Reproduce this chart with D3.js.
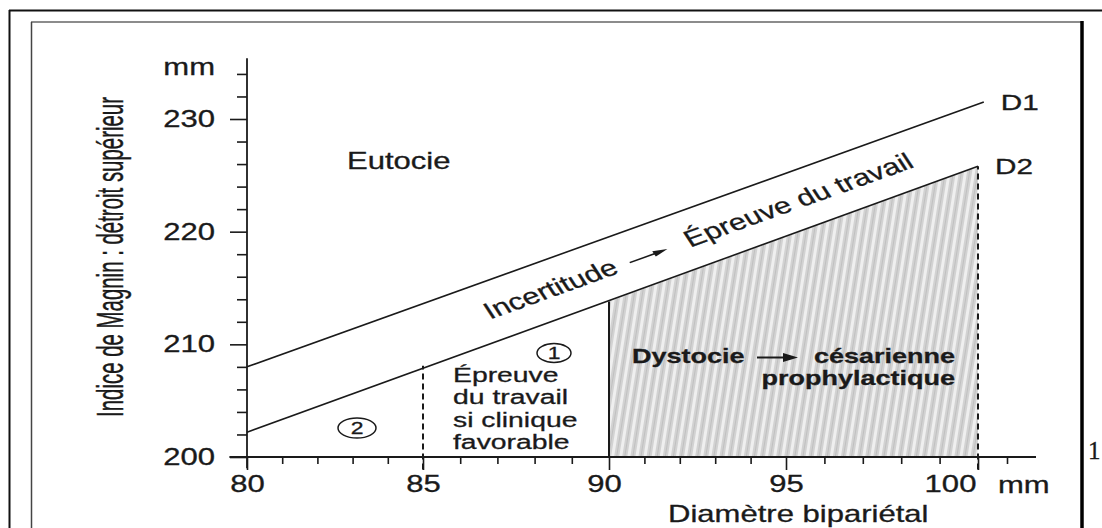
<!DOCTYPE html>
<html>
<head>
<meta charset="utf-8">
<script src="https://cdn.jsdelivr.net/npm/d3@7"></script>
<style>
  body { margin: 0; background: #fff; }
  svg { display: block; }
  text { font-family: "Liberation Sans", Arial, sans-serif; fill: #1a1a1a; stroke: #1a1a1a; stroke-width: 0.3px; }
</style>
</head>
<body>
<svg width="1102" height="528"></svg>
<script>
// values
var xMajor = [80, 85, 90, 95, 100];
var xMinor = [81, 82, 83, 84, 86, 87, 88, 89, 91, 92, 93, 94, 96, 97, 98, 99, 101];
var yMajor = [200, 210, 220, 230];
var yMinor = [202, 204, 206, 208, 212, 214, 216, 218, 222, 224, 226, 228, 232, 234];

var lineNames = ['D1', 'D2'];
var d1 = [[80, 208], [100.2, 231.5]];
var d2 = [[80, 202.2], [100, 225.8]];
var zoneTop = [[90, 213.8], [100, 225.8]];   // cesarean zone, under D2
var solid90 = [[90, 200], [90, 213.8]];
var dashed85 = [[85, 198.9], [85, 208.1]];
var dashed100 = [[100, 198.9], [100, 225.8]];

var SX = 1.35; // the scan is stretched horizontally
var ink = '#1a1a1a';

var svg = d3.select('svg');

// scan is a bit uneven along x, so the scale follows the printed ticks
var x = d3.scaleLinear()
  .domain([80, 85, 90, 95, 100, 101])
  .range([247, 423, 609, 786, 978, 1007]);
var y = d3.scaleLinear().domain([200, 230]).range([457, 119]);

var line = d3.line().x(function (d) { return x(d[0]); }).y(function (d) { return y(d[1]); });

// page frames
svg.append('rect').attr('width', 1102).attr('height', 528).attr('fill', '#fff');
svg.append('line').attr('x1', 9).attr('y1', 10.5).attr('x2', 1102).attr('y2', 10.5)
  .attr('stroke', '#111').attr('stroke-width', 2);
svg.append('line').attr('x1', 9.5).attr('y1', 10).attr('x2', 9.5).attr('y2', 528)
  .attr('stroke', '#111').attr('stroke-width', 2);
svg.append('line').attr('x1', 31).attr('y1', 22).attr('x2', 1082).attr('y2', 22)
  .attr('stroke', '#666').attr('stroke-width', 1.5);
svg.append('line').attr('x1', 31.5).attr('y1', 22).attr('x2', 31.5).attr('y2', 528)
  .attr('stroke', '#444').attr('stroke-width', 1.5);
svg.append('line').attr('x1', 1082).attr('y1', 21).attr('x2', 1082).attr('y2', 528)
  .attr('stroke', '#000').attr('stroke-width', 3.5);
svg.append('text').text('1')
  .attr('x', 1088).attr('y', 459)
  .style('font-family', '"Liberation Serif", "DejaVu Serif", serif')
  .style('font-size', '25px');

// striped texture for the shaded zone
var defs = svg.append('defs');
var pat = defs.append('pattern')
  .attr('id', 'stripes')
  .attr('patternUnits', 'userSpaceOnUse')
  .attr('width', 8).attr('height', 40)
  .attr('patternTransform', 'rotate(9)');
pat.append('rect').attr('width', 8).attr('height', 40).attr('fill', '#d2d2d2');
pat.append('rect').attr('x', 3).attr('width', 3).attr('height', 40).attr('fill', '#efefef');
pat.append('rect').attr('x', 0).attr('width', 1).attr('height', 40).attr('fill', '#c0c0c0');

var zone = d3.area()
  .x(function (d) { return x(d[0]); })
  .y0(y(200))
  .y1(function (d) { return y(d[1]); });
svg.append('path')
  .datum(zoneTop)
  .attr('d', zone)
  .attr('fill', 'url(#stripes)');

// lines D1 and D2
svg.selectAll('.dline')
  .data([d1, d2])
  .enter().append('path')
  .attr('class', 'dline')
  .attr('d', line)
  .attr('fill', 'none')
  .attr('stroke', ink)
  .attr('stroke-width', 1.6);

svg.append('path').datum(solid90).attr('d', line)
  .attr('stroke', ink).attr('stroke-width', 2);
svg.selectAll('.dash')
  .data([dashed85, dashed100])
  .enter().append('path')
  .attr('class', 'dash')
  .attr('d', line)
  .attr('stroke', ink)
  .attr('stroke-width', 2)
  .attr('stroke-dasharray', '6,4');

// axes
var yMinorAxis = d3.axisLeft(y).tickValues(yMinor).tickSize(10).tickFormat('');
var yMajorAxis = d3.axisLeft(y).tickValues(yMajor).tickSize(17).tickPadding(15);
var xMinorAxis = d3.axisBottom(x).tickValues(xMinor).tickSize(7).tickFormat('');
var xMajorAxis = d3.axisBottom(x).tickValues(xMajor).tickSize(13).tickPadding(6);

function styleAxis(g) {
  g.select('.domain').remove();
  g.selectAll('line').attr('stroke', ink).attr('stroke-width', 1.6);
  g.selectAll('text').attr('font-size', 23).attr('fill', ink)
    .style('font-family', '"Liberation Sans", Arial, sans-serif');
}

svg.append('g').attr('transform', 'translate(' + x(80) + ',0)').call(yMinorAxis).call(styleAxis);
svg.append('g').attr('transform', 'translate(' + x(80) + ',0)').call(yMajorAxis).call(styleAxis)
  .selectAll('text')
  .attr('x', -32 / SX)
  .attr('transform', 'scale(' + SX + ',1)');
svg.append('g').attr('transform', 'translate(0,' + y(200) + ')').call(xMinorAxis).call(styleAxis);
svg.append('g').attr('transform', 'translate(0,' + y(200) + ')').call(xMajorAxis).call(styleAxis)
  .selectAll('text')
  .attr('x', function (d) { return d === 100 ? -28 / SX : (d === 90 ? -5 / SX : 0); })
  .attr('transform', 'scale(' + SX + ',1)');

// axis lines
svg.append('line')
  .attr('x1', x(80)).attr('x2', x(80))
  .attr('y1', y(235.4)).attr('y2', y(199))
  .attr('stroke', ink).attr('stroke-width', 1.8);
svg.append('line')
  .attr('x1', x(79.5)).attr('x2', x(102))
  .attr('y1', y(200)).attr('y2', y(200))
  .attr('stroke', ink).attr('stroke-width', 1.8);

// stretched text helper
function label(px, py, str, size, anchor, weight) {
  return svg.append('text')
    .text(str)
    .attr('transform', 'translate(' + px + ',' + py + ') scale(' + SX + ',1)')
    .attr('font-size', size)
    .attr('text-anchor', anchor || 'start')
    .attr('font-weight', weight || 'normal');
}

label(215, 75, 'mm', 23, 'end');
label(998, 493, 'mm', 23, 'start');
label(668, 522, 'Diamètre bipariétal', 23, 'start');
label(347, 169, 'Eutocie', 23, 'start');

// line names at the right end of each line
var ends = [d1[1], d2[1]];
svg.selectAll('.dname')
  .data(lineNames)
  .enter().append('text')
  .attr('class', 'dname')
  .text(function (d) { return d; })
  .attr('transform', function (d, i) {
    return 'translate(' + (x(ends[i][0]) + 17) + ',' + (y(ends[i][1]) + 8) + ') scale(' + SX + ',1)';
  })
  .attr('font-size', 22);

// y title
svg.append('text')
  .text('Indice de Magnin : détroit supérieur')
  .attr('transform', 'translate(123,257) scale(' + SX + ',1) rotate(-90)')
  .attr('text-anchor', 'middle')
  .attr('font-size', 27)
  .attr('textLength', 320)
  .attr('lengthAdjust', 'spacingAndGlyphs')
  .style('font-family', '"Liberation Sans Narrow", "Liberation Sans", Arial, sans-serif');

// "Épreuve du travail si clinique favorable"
var block = ['Épreuve', 'du travail', 'si clinique', 'favorable'];
var blockY = [382, 404, 427, 449];
block.forEach(function (s, i) { label(453, blockY[i], s, 21, 'start'); });

// circled numbers
function circled(cx, cy, rx, ry, s) {
  svg.append('ellipse')
    .attr('cx', cx).attr('cy', cy).attr('rx', rx).attr('ry', ry)
    .attr('fill', 'none').attr('stroke', ink).attr('stroke-width', 1.5);
  label(cx, cy + 6, s, 17, 'middle');
}
circled(554, 353, 17, 9.5, '1');
circled(357, 428, 19, 10, '2');

// dystocie
label(632, 363, 'Dystocie', 20, 'start', 'bold');
label(955, 363, 'césarienne', 20, 'end', 'bold');
label(955, 385, 'prophylactique', 20, 'end', 'bold');
svg.append('line').attr('x1', 757).attr('y1', 357.5).attr('x2', 786).attr('y2', 357.5)
  .attr('stroke', ink).attr('stroke-width', 2);
svg.append('path').attr('d', 'M783,353 L798,357.5 L783,362 Z').attr('fill', ink);

// band label, follows the slope of D1 (x is stretched, so the local angle is steeper)
var slope = (y(d1[1][1]) - y(d1[0][1])) / (x(d1[1][0]) - x(d1[0][0]));
var ang = Math.atan(slope * SX) * 180 / Math.PI;
var band = svg.append('g')
  .attr('transform', 'translate(' + x(86.8) + ',' + y(212.2) + ') scale(' + SX + ',1) rotate(' + ang + ')');
band.append('text').text('Incertitude').attr('font-size', 23);
band.append('line').attr('x1', 118).attr('y1', -6).attr('x2', 140).attr('y2', -6)
  .attr('stroke', ink).attr('stroke-width', 1.5);
band.append('path').attr('d', 'M138,-9 L149,-6 L138,-3 Z').attr('fill', ink);
band.append('text').text('Épreuve du travail').attr('x', 165).attr('font-size', 23);
</script>
</body>
</html>
